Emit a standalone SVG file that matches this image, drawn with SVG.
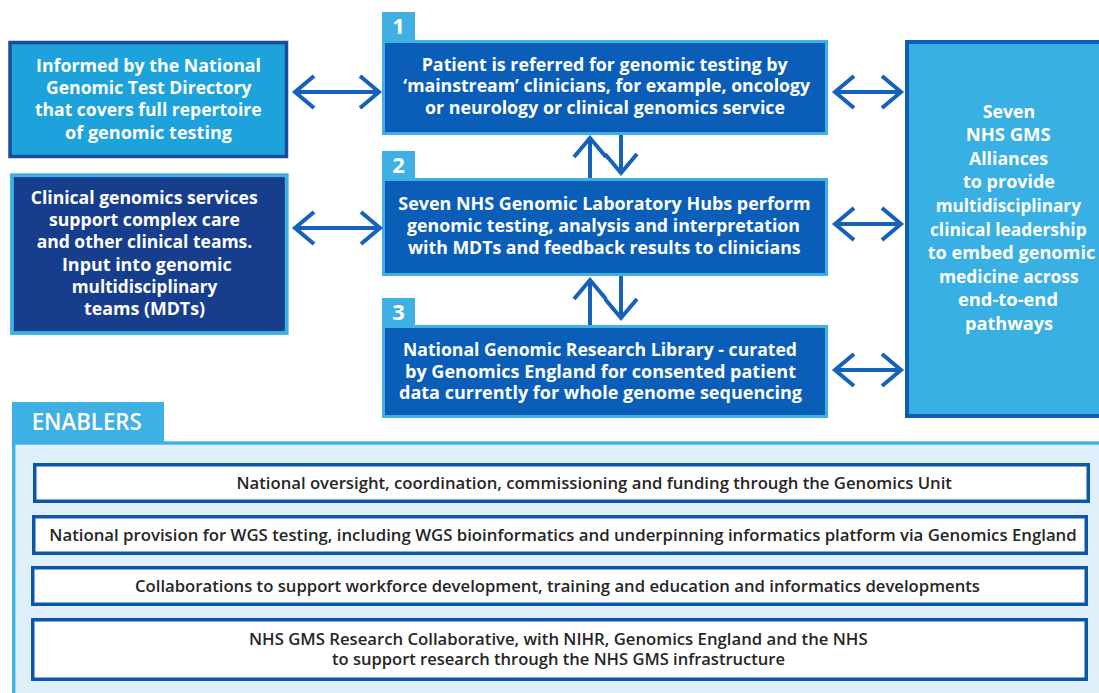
<svg xmlns="http://www.w3.org/2000/svg" width="1099" height="693" viewBox="0 0 1099 693">
<style>
.w{font-family:"Open Sans","Noto Sans","Liberation Sans",sans-serif;font-weight:700;font-size:18px;fill:#ffffff;text-anchor:middle}
.num{font-family:"Open Sans","Noto Sans","Liberation Sans",sans-serif;font-weight:700;font-size:22px;fill:#ffffff;text-anchor:middle}
.en{font-family:"Open Sans","Noto Sans","Liberation Sans",sans-serif;font-weight:600;font-size:16px;fill:#262626;text-anchor:middle}
.tab{fill:#3fb0e4}
.step{fill:#0a5eb7}
.ebox{fill:#ffffff;stroke:#0c57a9;stroke-width:3.5}
.arr{fill:none;stroke:#1561bb;stroke-width:4;marker-start:url(#chev);marker-end:url(#chev)}
</style>
<defs>
<marker id="chev" markerUnits="userSpaceOnUse" viewBox="-24 -20 28 40" markerWidth="28" markerHeight="40" refX="0" refY="0" orient="auto-start-reverse" overflow="visible">
<path d="M -19 -16 L 0 0 L -19 16" fill="none" stroke="#1561bb" stroke-width="4" stroke-linejoin="miter"/>
</marker>
</defs>
<rect width="1099" height="693" fill="#ffffff"/>

<g id="informed">
<rect x="10" y="42.5" width="276.5" height="114" fill="#1da2db" stroke="#1a4c9c" stroke-width="3.5"/>
<text class="w" x="148.5" y="72" textLength="225" lengthAdjust="spacingAndGlyphs">Informed by the National</text>
<text class="w" x="148.8" y="94.2" textLength="205.7" lengthAdjust="spacingAndGlyphs">Genomic Test Directory</text>
<text class="w" x="148.3" y="116.4" textLength="226.7" lengthAdjust="spacingAndGlyphs">that covers full repertoire</text>
<text class="w" x="148.5" y="138.6" textLength="167" lengthAdjust="spacingAndGlyphs">of genomic testing</text>
</g>

<g id="clinical">
<rect x="12" y="175.2" width="274.7" height="157.8" fill="#173d8d" stroke="#3fb0e4" stroke-width="3.8"/>
<text class="w" x="144.2" y="204" textLength="227" lengthAdjust="spacingAndGlyphs">Clinical genomics services</text>
<text class="w" x="144.5" y="226.2" textLength="191" lengthAdjust="spacingAndGlyphs">support complex care</text>
<text class="w" x="144.5" y="248.4" textLength="215.6" lengthAdjust="spacingAndGlyphs">and other clinical teams.</text>
<text class="w" x="146.8" y="270.6" textLength="169.7" lengthAdjust="spacingAndGlyphs">Input into genomic</text>
<text class="w" x="144.5" y="292.8" textLength="145.6" lengthAdjust="spacingAndGlyphs">multidisciplinary</text>
<text class="w" x="144.5" y="315" textLength="121" lengthAdjust="spacingAndGlyphs">teams (MDTs)</text>
</g>

<g id="step1">
<path class="tab" d="M382 12 H415 V40 H828 V135 H382 Z"/>
<rect class="step" x="385" y="43" width="440" height="89"/>
<text class="num" x="398.5" y="34">1</text>
<text class="w" x="604.7" y="70.7" textLength="366" lengthAdjust="spacingAndGlyphs">Patient is referred for genomic testing by</text>
<text class="w" x="606.7" y="92.3" textLength="406.7" lengthAdjust="spacingAndGlyphs">‘mainstream’ clinicians, for example, oncology</text>
<text class="w" x="605" y="114" textLength="360" lengthAdjust="spacingAndGlyphs">or neurology or clinical genomics service</text>
</g>

<g id="step2">
<path class="tab" d="M382 151 H415 V178 H828 V276 H382 Z"/>
<rect class="step" x="385" y="181" width="440" height="92"/>
<text class="num" x="398.5" y="173">2</text>
<text class="w" x="604.5" y="210" textLength="412.4" lengthAdjust="spacingAndGlyphs">Seven NHS Genomic Laboratory Hubs perform</text>
<text class="w" x="603.5" y="231.7" textLength="393" lengthAdjust="spacingAndGlyphs">genomic testing, analysis and interpretation</text>
<text class="w" x="604.3" y="254" textLength="392.7" lengthAdjust="spacingAndGlyphs">with MDTs and feedback results to clinicians</text>
</g>

<g id="step3">
<path class="tab" d="M382 298 H415 V325 H828 V418 H382 Z"/>
<rect class="step" x="385" y="328" width="440" height="87"/>
<text class="num" x="398.5" y="320">3</text>
<text class="w" x="600" y="356" textLength="394" lengthAdjust="spacingAndGlyphs">National Genomic Research Library - curated</text>
<text class="w" x="600.5" y="377.7" textLength="391" lengthAdjust="spacingAndGlyphs">by Genomics England for consented patient</text>
<text class="w" x="600.5" y="399.3" textLength="403" lengthAdjust="spacingAndGlyphs">data currently for whole genome sequencing</text>
</g>

<g id="alliances">
<rect x="907" y="42" width="200" height="374" fill="#38b0e3" stroke="#0f5cb3" stroke-width="4"/>
<text class="w" x="1009" y="117.5" textLength="52.6" lengthAdjust="spacingAndGlyphs">Seven</text>
<text class="w" x="1008.2" y="141.1" textLength="85" lengthAdjust="spacingAndGlyphs">NHS GMS</text>
<text class="w" x="1008.5" y="164.7" textLength="79" lengthAdjust="spacingAndGlyphs">Alliances</text>
<text class="w" x="1009" y="188.3" textLength="92" lengthAdjust="spacingAndGlyphs">to provide</text>
<text class="w" x="1008.3" y="211.9" textLength="145.3" lengthAdjust="spacingAndGlyphs">multidisciplinary</text>
<text class="w" x="1008.3" y="235.5" textLength="156.7" lengthAdjust="spacingAndGlyphs">clinical leadership</text>
<text class="w" x="1011.5" y="259.1" textLength="167.6" lengthAdjust="spacingAndGlyphs">to embed genomic</text>
<text class="w" x="1008.8" y="282.7" textLength="139.7" lengthAdjust="spacingAndGlyphs">medicine across</text>
<text class="w" x="1008" y="306.3" textLength="100" lengthAdjust="spacingAndGlyphs">end-to-end</text>
<text class="w" x="1009" y="329.9" textLength="88" lengthAdjust="spacingAndGlyphs">pathways</text>
</g>

<g id="connectors">
<path class="arr" d="M295 92 H379"/>
<path class="arr" d="M295 228 H380"/>
<path class="arr" d="M835 92 H901"/>
<path class="arr" d="M835 224 H901"/>
<path class="arr" d="M835 370 H901"/>
<path fill="none" stroke="#1561bb" stroke-width="4" marker-end="url(#chev)" d="M590 178 V138"/>
<path fill="none" stroke="#1561bb" stroke-width="4" marker-end="url(#chev)" d="M621 135 V173"/>
<path fill="none" stroke="#1561bb" stroke-width="4" marker-end="url(#chev)" d="M590 325 V280"/>
<path fill="none" stroke="#1561bb" stroke-width="4" marker-end="url(#chev)" d="M621 276 V318"/>
</g>

<g id="enablers">
<rect x="13.7" y="443" width="1095" height="260" fill="#dff0fa" stroke="#3fb0e4" stroke-width="3.4"/>
<rect class="tab" x="12" y="402" width="152" height="42"/>
<text x="86.7" y="430" font-family="'Open Sans','Noto Sans','Liberation Sans',sans-serif" font-weight="600" font-size="23" fill="#ffffff" text-anchor="middle" textLength="110" lengthAdjust="spacingAndGlyphs">ENABLERS</text>
</g>

<g id="enabler1">
<rect class="ebox" x="34.75" y="464.75" width="1053.5" height="36.5"/>
<text class="en" x="594.2" y="488.5" textLength="715.5" lengthAdjust="spacingAndGlyphs">National oversight, coordination, commissioning and funding through the Genomics Unit</text>
</g>
<g id="enabler2">
<rect class="ebox" x="33.75" y="516.75" width="1052.5" height="36.5"/>
<text class="en" x="563" y="540.7" textLength="1027.4" lengthAdjust="spacingAndGlyphs">National provision for WGS testing, including WGS bioinformatics and underpinning informatics platform via Genomics England</text>
</g>
<g id="enabler3">
<rect class="ebox" x="32.75" y="567.75" width="1053.5" height="36.5"/>
<text class="en" x="557.5" y="591.7" textLength="845" lengthAdjust="spacingAndGlyphs">Collaborations to support workforce development, training and education and informatics developments</text>
</g>
<g id="enabler4">
<rect class="ebox" x="32.75" y="619.75" width="1053.5" height="59.5"/>
<text class="en" x="558.3" y="644.5" textLength="618.6" lengthAdjust="spacingAndGlyphs">NHS GMS Research Collaborative, with NIHR, Genomics England and the NHS</text>
<text class="en" x="558.5" y="665" textLength="453" lengthAdjust="spacingAndGlyphs">to support research through the NHS GMS infrastructure</text>
</g>
</svg>
